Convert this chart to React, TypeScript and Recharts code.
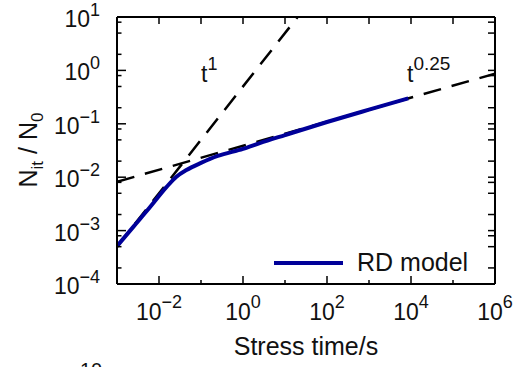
import React from 'react';
import { LineChart, Line, XAxis, YAxis } from 'recharts';

// Axis ranges (log-log)
const X_DOMAIN: [number, number] = [1e-3, 1e6];
const Y_DOMAIN: [number, number] = [1e-4, 10];

// Decade exponents and minor-tick mantissas
const xDecades = [-3, -2, -1, 0, 1, 2, 3, 4, 5, 6];
const yDecades = [-4, -3, -2, -1, 0];
const yMantissas = [1, 2, 5, 8];

// RD model curve: interface trap density vs stress time
const rdTime = [0.001, 0.0025, 0.006, 0.015, 0.026, 0.045, 0.1, 0.25, 1, 2.5, 10, 100, 1000, 8600];
const rdNit = [5.1e-4, 1.2e-3, 2.7e-3, 6.5e-3, 1.02e-2, 1.36e-2, 1.85e-2, 2.5e-2, 3.4e-2, 4.35e-2, 6.15e-2, 1.08e-1, 1.84e-1, 3.0e-1];

// Power-law guide lines
const slope1Time = [1e-3, 20];
const slope1Nit = [5e-4, 10];
const slopeQuarterTime = [1e-3, 1e6];
const slopeQuarterNit = [8.2e-3, 0.87];

const W = 524;
const H = 367;
const FONT = '"Liberation Sans", Arial, Helvetica, sans-serif';
const INK = '#111';
const BLUE = '#000099';

const toPoints = (xs: number[], ys: number[]) => xs.map((x, i) => ({ x, y: ys[i] }));
const rdData = toPoints(rdTime, rdNit);
const slope1Data = toPoints(slope1Time, slope1Nit);
const slopeQuarterData = toPoints(slopeQuarterTime, slopeQuarterNit);

const xTicks = xDecades.map((e) => Number((10 ** e).toPrecision(3)));
const yTicks = [
  ...yDecades.flatMap((e) => yMantissas.map((m) => Number((m * 10 ** e).toPrecision(3)))),
  10,
];

const expText = (e: number) => (e < 0 ? '\u2212' + -e : String(e));
const isDecade = (v: number) => {
  const lg = Math.log10(v);
  return Math.abs(lg - Math.round(lg)) < 1e-6;
};

const BottomTick = (props: any) => {
  const { x, y, payload } = props;
  const e = Math.round(Math.log10(payload.value));
  const major = e % 2 === 0;
  return (
    <g>
      <line x1={x} x2={x} y1={y} y2={y - (major ? 8 : 4)} stroke="#000" strokeWidth={1.5} />
      {major && (
        <text x={x} y={y + 36} textAnchor="middle" fontSize={23} fill={INK} fontFamily={FONT}>
          <tspan>10</tspan>
          <tspan dy={-12} fontSize={18}>{expText(e)}</tspan>
        </text>
      )}
    </g>
  );
};

const TopTick = (props: any) => {
  const { x, y } = props;
  return <line x1={x} x2={x} y1={y} y2={y + 7} stroke="#000" strokeWidth={1.5} />;
};

const LeftTick = (props: any) => {
  const { x, y, payload } = props;
  const major = isDecade(payload.value);
  const e = Math.round(Math.log10(payload.value));
  return (
    <g>
      <line x1={x} x2={x + (major ? 9 : 4.5)} y1={y} y2={y} stroke="#000" strokeWidth={1.5} />
      {major && (
        <text x={x - 17} y={y + 10} textAnchor="end" fontSize={23} fill={INK} fontFamily={FONT}>
          <tspan>10</tspan>
          <tspan dy={-11} fontSize={18}>{expText(e)}</tspan>
        </text>
      )}
    </g>
  );
};

const RightTick = (props: any) => {
  const { x, y } = props;
  return <line x1={x} x2={x - 7} y1={y} y2={y} stroke="#000" strokeWidth={1.5} />;
};

const axisLine = { stroke: '#000', strokeWidth: 2 };

export default function App() {
  return (
    <div style={{ position: 'relative', width: W, height: H, overflow: 'hidden', background: '#fff' }}>
      <style>{'body{margin:0;overflow:hidden;}'}</style>
      <LineChart width={W} height={H} margin={{ top: 0, right: 0, bottom: 0, left: 0 }}>
        <XAxis
          xAxisId="bottom"
          type="number"
          dataKey="x"
          scale="log"
          domain={X_DOMAIN}
          allowDataOverflow
          ticks={xTicks}
          interval={0}
          height={83}
          tickSize={0}
          tickMargin={0}
          tickLine={false}
          axisLine={axisLine}
          tick={BottomTick}
        />
        <XAxis
          xAxisId="top"
          orientation="top"
          type="number"
          dataKey="x"
          scale="log"
          domain={X_DOMAIN}
          allowDataOverflow
          ticks={xTicks}
          interval={0}
          height={17}
          tickSize={0}
          tickMargin={0}
          tickLine={false}
          axisLine={axisLine}
          tick={TopTick}
        />
        <YAxis
          yAxisId="left"
          type="number"
          scale="log"
          domain={Y_DOMAIN}
          allowDataOverflow
          ticks={yTicks}
          interval={0}
          width={117}
          tickSize={0}
          tickMargin={0}
          tickLine={false}
          axisLine={axisLine}
          tick={LeftTick}
        />
        <YAxis
          yAxisId="right"
          orientation="right"
          type="number"
          scale="log"
          domain={Y_DOMAIN}
          allowDataOverflow
          ticks={yTicks}
          interval={0}
          width={29}
          tickSize={0}
          tickMargin={0}
          tickLine={false}
          axisLine={axisLine}
          tick={RightTick}
        />
        <Line
          xAxisId="bottom"
          yAxisId="left"
          data={slope1Data}
          dataKey="y"
          type="linear"
          stroke="#000"
          strokeWidth={2.5}
          strokeDasharray="18 11"
          dot={false}
          activeDot={false}
          isAnimationActive={false}
        />
        <Line
          xAxisId="bottom"
          yAxisId="left"
          data={slopeQuarterData}
          dataKey="y"
          type="linear"
          stroke="#000"
          strokeWidth={2.5}
          strokeDasharray="18 11"
          dot={false}
          activeDot={false}
          isAnimationActive={false}
        />
        <Line
          xAxisId="bottom"
          yAxisId="left"
          data={rdData}
          dataKey="y"
          type="monotone"
          stroke={BLUE}
          strokeWidth={4}
          dot={false}
          activeDot={false}
          isAnimationActive={false}
        />
      </LineChart>
      <svg
        width={W}
        height={H}
        style={{ position: 'absolute', left: 0, top: 0, pointerEvents: 'none' }}
        fontFamily={FONT}
        fill={INK}
      >
        <text x={306} y={355} textAnchor="middle" fontSize={25}>Stress time/s</text>
        <text transform="translate(37,150) rotate(-90)" textAnchor="middle" fontSize={25}>
          <tspan>N</tspan>
          <tspan dy={6} fontSize={17}>it</tspan>
          <tspan dy={-6}> / N</tspan>
          <tspan dy={6} fontSize={17}>0</tspan>
        </text>
        <text x={201} y={82} fontSize={23}>
          <tspan>t</tspan>
          <tspan dy={-12} fontSize={18}>1</tspan>
        </text>
        <text x={407} y={82} fontSize={23}>
          <tspan>t</tspan>
          <tspan dy={-12} fontSize={19}>0.25</tspan>
        </text>
        <line x1={274} x2={343} y1={263} y2={263} stroke={BLUE} strokeWidth={4} />
        <text x={357} y={271} fontSize={25}>RD model</text>
        <text x={80} y={377} fontSize={20}>10</text>
      </svg>
    </div>
  );
}
